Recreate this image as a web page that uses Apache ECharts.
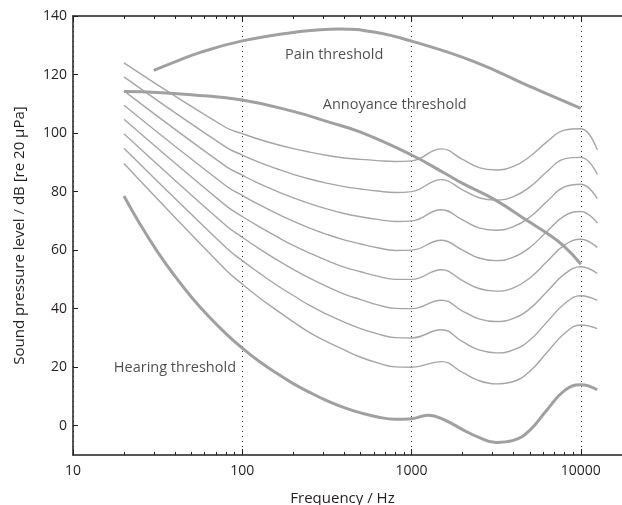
<!DOCTYPE html>
<html>
<head>
<meta charset="utf-8">
<script src="https://cdn.jsdelivr.net/npm/echarts@6/dist/echarts.min.js"></script>
<style>
html, body { margin: 0; padding: 0; background: #fff; }
#pic0 { width: 622px; height: 505px; }
</style>
</head>
<body>
<div id="pic0"></div>
<script>
// equal-loudness contours, 20..90 phon
var contourFreq = [20, 80, 100, 125, 160, 200, 250, 315, 400, 500, 630, 800, 1000, 1500, 2000, 2500, 3150, 4000, 5000, 6300, 8000, 10000, 12500];
var phon20 = [89.6, 53.2, 48.4, 43.9, 39.4, 35.5, 31.8, 28.7, 25.9, 23.4, 21.5, 20.1, 20.0, 21.9, 18.2, 15.4, 14.3, 15.1, 18.6, 25.0, 31.5, 34.4, 33.2];
var phon30 = [94.8, 60.9, 56.4, 52.3, 48.0, 44.5, 41.1, 38.1, 35.4, 33.2, 31.4, 30.1, 30.0, 32.8, 28.7, 25.9, 24.9, 25.9, 29.3, 35.4, 41.7, 44.4, 42.8];
var phon40 = [99.8, 68.4, 64.4, 60.6, 56.7, 53.4, 50.4, 47.6, 45.0, 43.1, 41.3, 40.1, 40.0, 42.9, 39.2, 36.5, 35.6, 36.7, 40.0, 45.8, 51.8, 54.3, 52.0];
var phon50 = [104.7, 75.2, 71.5, 68.1, 64.6, 61.6, 59.0, 56.5, 54.2, 52.6, 51.1, 50.0, 50.0, 53.3, 49.6, 46.9, 46.0, 47.1, 50.5, 56.1, 61.7, 63.7, 60.9];
var phon60 = [109.5, 82.0, 78.7, 75.6, 72.5, 69.9, 67.5, 65.4, 63.5, 62.1, 60.8, 59.9, 60.0, 63.4, 60.0, 57.3, 56.4, 57.6, 60.9, 66.4, 71.7, 73.2, 69.2];
var phon70 = [114.4, 88.6, 85.6, 82.8, 80.1, 77.9, 75.9, 74.1, 72.5, 71.4, 70.5, 69.8, 70.0, 73.8, 70.3, 67.6, 66.8, 68.0, 71.3, 76.6, 81.6, 82.5, 77.6];
var phon80 = [119.2, 95.2, 92.5, 90.1, 87.8, 85.9, 84.3, 82.9, 81.7, 80.9, 80.2, 79.7, 80.0, 84.1, 80.6, 77.9, 77.1, 78.3, 81.6, 86.8, 91.2, 91.7, 85.9];
var phon90 = [124.0, 101.9, 99.8, 97.9, 96.1, 94.7, 93.5, 92.4, 91.5, 91.0, 90.6, 90.3, 90.5, 94.6, 91.0, 88.2, 87.4, 88.6, 92.0, 97.0, 101.0, 101.5, 94.2];

// hearing threshold
var hearFreq = [20, 25, 31.5, 40, 50, 63, 80, 100, 125, 160, 200, 250, 315, 400, 500, 630, 800, 1000, 1250, 1600, 2000, 2500, 3150, 4000, 5000, 6300, 8000, 10000, 12500];
var hearLevel = [78.5, 68.7, 59.5, 51.1, 44.0, 37.5, 31.5, 26.5, 22.1, 17.9, 14.4, 11.4, 8.6, 6.2, 4.4, 3.0, 2.2, 2.4, 3.6, 1.7, -1.3, -4.0, -5.7, -5.0, -1.5, 5.4, 12.0, 14.0, 12.3];

// annoyance threshold
var annoyFreq = [20, 31.5, 50, 100, 200, 315, 500, 1000, 1600, 2000, 3150, 5000, 6300, 8000, 10000];
var annoyLevel = [114.2, 113.9, 113.1, 111.3, 107.4, 104.0, 100.3, 92.5, 86.0, 82.8, 77.0, 69.5, 65.8, 61.2, 55.2];

// pain threshold
var painFreq = [30, 40, 56, 100, 200, 375, 600, 1000, 2300, 5200, 10000];
var painLevel = [121.4, 124.3, 127.5, 131.5, 134.4, 135.6, 134.5, 131.4, 124.6, 115.5, 108.4];

// text labels
var labelText = ['Pain threshold', 'Annoyance threshold', 'Hearing threshold'];
var labelFreq = [349, 795, 40];
var labelLevel = [126.6, 109.5, 19.9];

var majorTicks = [10, 100, 1000, 10000];
var minorTicks = [20, 30, 40, 50, 60, 70, 80, 90, 200, 300, 400, 500, 600, 700, 800, 900,
                  2000, 3000, 4000, 5000, 6000, 7000, 8000, 9000];
var yTicks = [0, 20, 40, 60, 80, 100, 120, 140];

var fontName = 'Open Sans';
var ink = '#231f20';
var thin = '#a6a6a6';
var thick = '#a0a0a0';

function pairs(xs, ys) {
    var out = [];
    for (var i = 0; i < xs.length; i++) out.push([xs[i], ys[i]]);
    return out;
}

var myChart = echarts.init(document.getElementById('pic0'));

var contours = [phon20, phon30, phon40, phon50, phon60, phon70, phon80, phon90];
var series = [];
contours.forEach(function (lv, i) {
    series.push({
        name: 'contour' + i,
        type: 'line',
        data: pairs(contourFreq, lv),
        smooth: 0.45,
        symbol: 'none',
        lineStyle: {color: thin, width: 1.4}
    });
});
[[hearFreq, hearLevel, 'Hearing threshold'],
 [annoyFreq, annoyLevel, 'Annoyance threshold'],
 [painFreq, painLevel, 'Pain threshold']].forEach(function (s) {
    series.push({
        name: s[2], type: 'line', data: pairs(s[0], s[1]),
        smooth: 0.45, symbol: 'none',
        lineStyle: {color: thick, width: 3}
    });
});
series.push({
    name: 'labels', type: 'scatter', symbolSize: 0, silent: true,
    data: labelText.map(function (t, i) { return {name: t, value: [labelFreq[i], labelLevel[i]]}; }),
    label: {
        show: true, position: 'inside', formatter: '{b}',
        color: ink, fontFamily: fontName, fontSize: 14.5
    }
});

var xBase = {
    type: 'log', logBase: 10, min: 10, max: 17500, gridIndex: 0
};

option = {
    animation: false,
    backgroundColor: '#fff',
    grid: {left: 73, top: 16, bottom: 50, right: 0, outerBoundsMode: 'none', containLabel: false},
    xAxis: [
        Object.assign({}, xBase, {
            position: 'bottom',
            name: 'Frequency / Hz', nameLocation: 'middle', nameGap: 36,
            nameTextStyle: {color: ink, fontFamily: fontName, fontSize: 15, padding: [0, 10, 0, 0]},
            axisLine: {onZero: false, lineStyle: {color: ink, width: 1.5}},
            axisTick: {inside: true, length: 6, customValues: majorTicks, lineStyle: {color: ink}},
            axisLabel: {customValues: majorTicks, color: ink, fontFamily: fontName, fontSize: 14, margin: 9,
                        formatter: function (v) { return String(Math.round(v)); }},
            splitLine: {show: true, lineStyle: {color: '#333', type: [1, 4], width: 1}}
        }),
        Object.assign({}, xBase, {
            position: 'bottom',
            axisLine: {show: false, onZero: false},
            axisTick: {inside: true, length: 3, customValues: minorTicks, lineStyle: {color: ink}},
            axisLabel: {show: false},
            splitLine: {show: false}
        }),
        Object.assign({}, xBase, {
            position: 'top',
            axisLine: {onZero: false, lineStyle: {color: ink, width: 1.5}},
            axisTick: {inside: true, length: 6, customValues: majorTicks, lineStyle: {color: ink}},
            axisLabel: {show: false},
            splitLine: {show: false}
        }),
        Object.assign({}, xBase, {
            position: 'top',
            axisLine: {show: false, onZero: false},
            axisTick: {inside: true, length: 3, customValues: minorTicks, lineStyle: {color: ink}},
            axisLabel: {show: false},
            splitLine: {show: false}
        })
    ],
    yAxis: {
        type: 'value', min: -10, max: 140,
        name: 'Sound pressure level / dB [re 20 \u03bcPa]',
        nameLocation: 'middle', nameGap: 46, nameRotate: 90,
        nameTextStyle: {color: ink, fontFamily: fontName, fontSize: 15},
        axisLine: {show: true, onZero: false, lineStyle: {color: ink, width: 1.5}},
        axisTick: {show: true, inside: true, length: 5, customValues: yTicks, lineStyle: {color: ink}},
        axisLabel: {customValues: yTicks, color: ink, fontFamily: fontName, fontSize: 14, margin: 6},
        splitLine: {show: false}
    },
    series: series
};

myChart.setOption(option);
</script>
</body>
</html>
